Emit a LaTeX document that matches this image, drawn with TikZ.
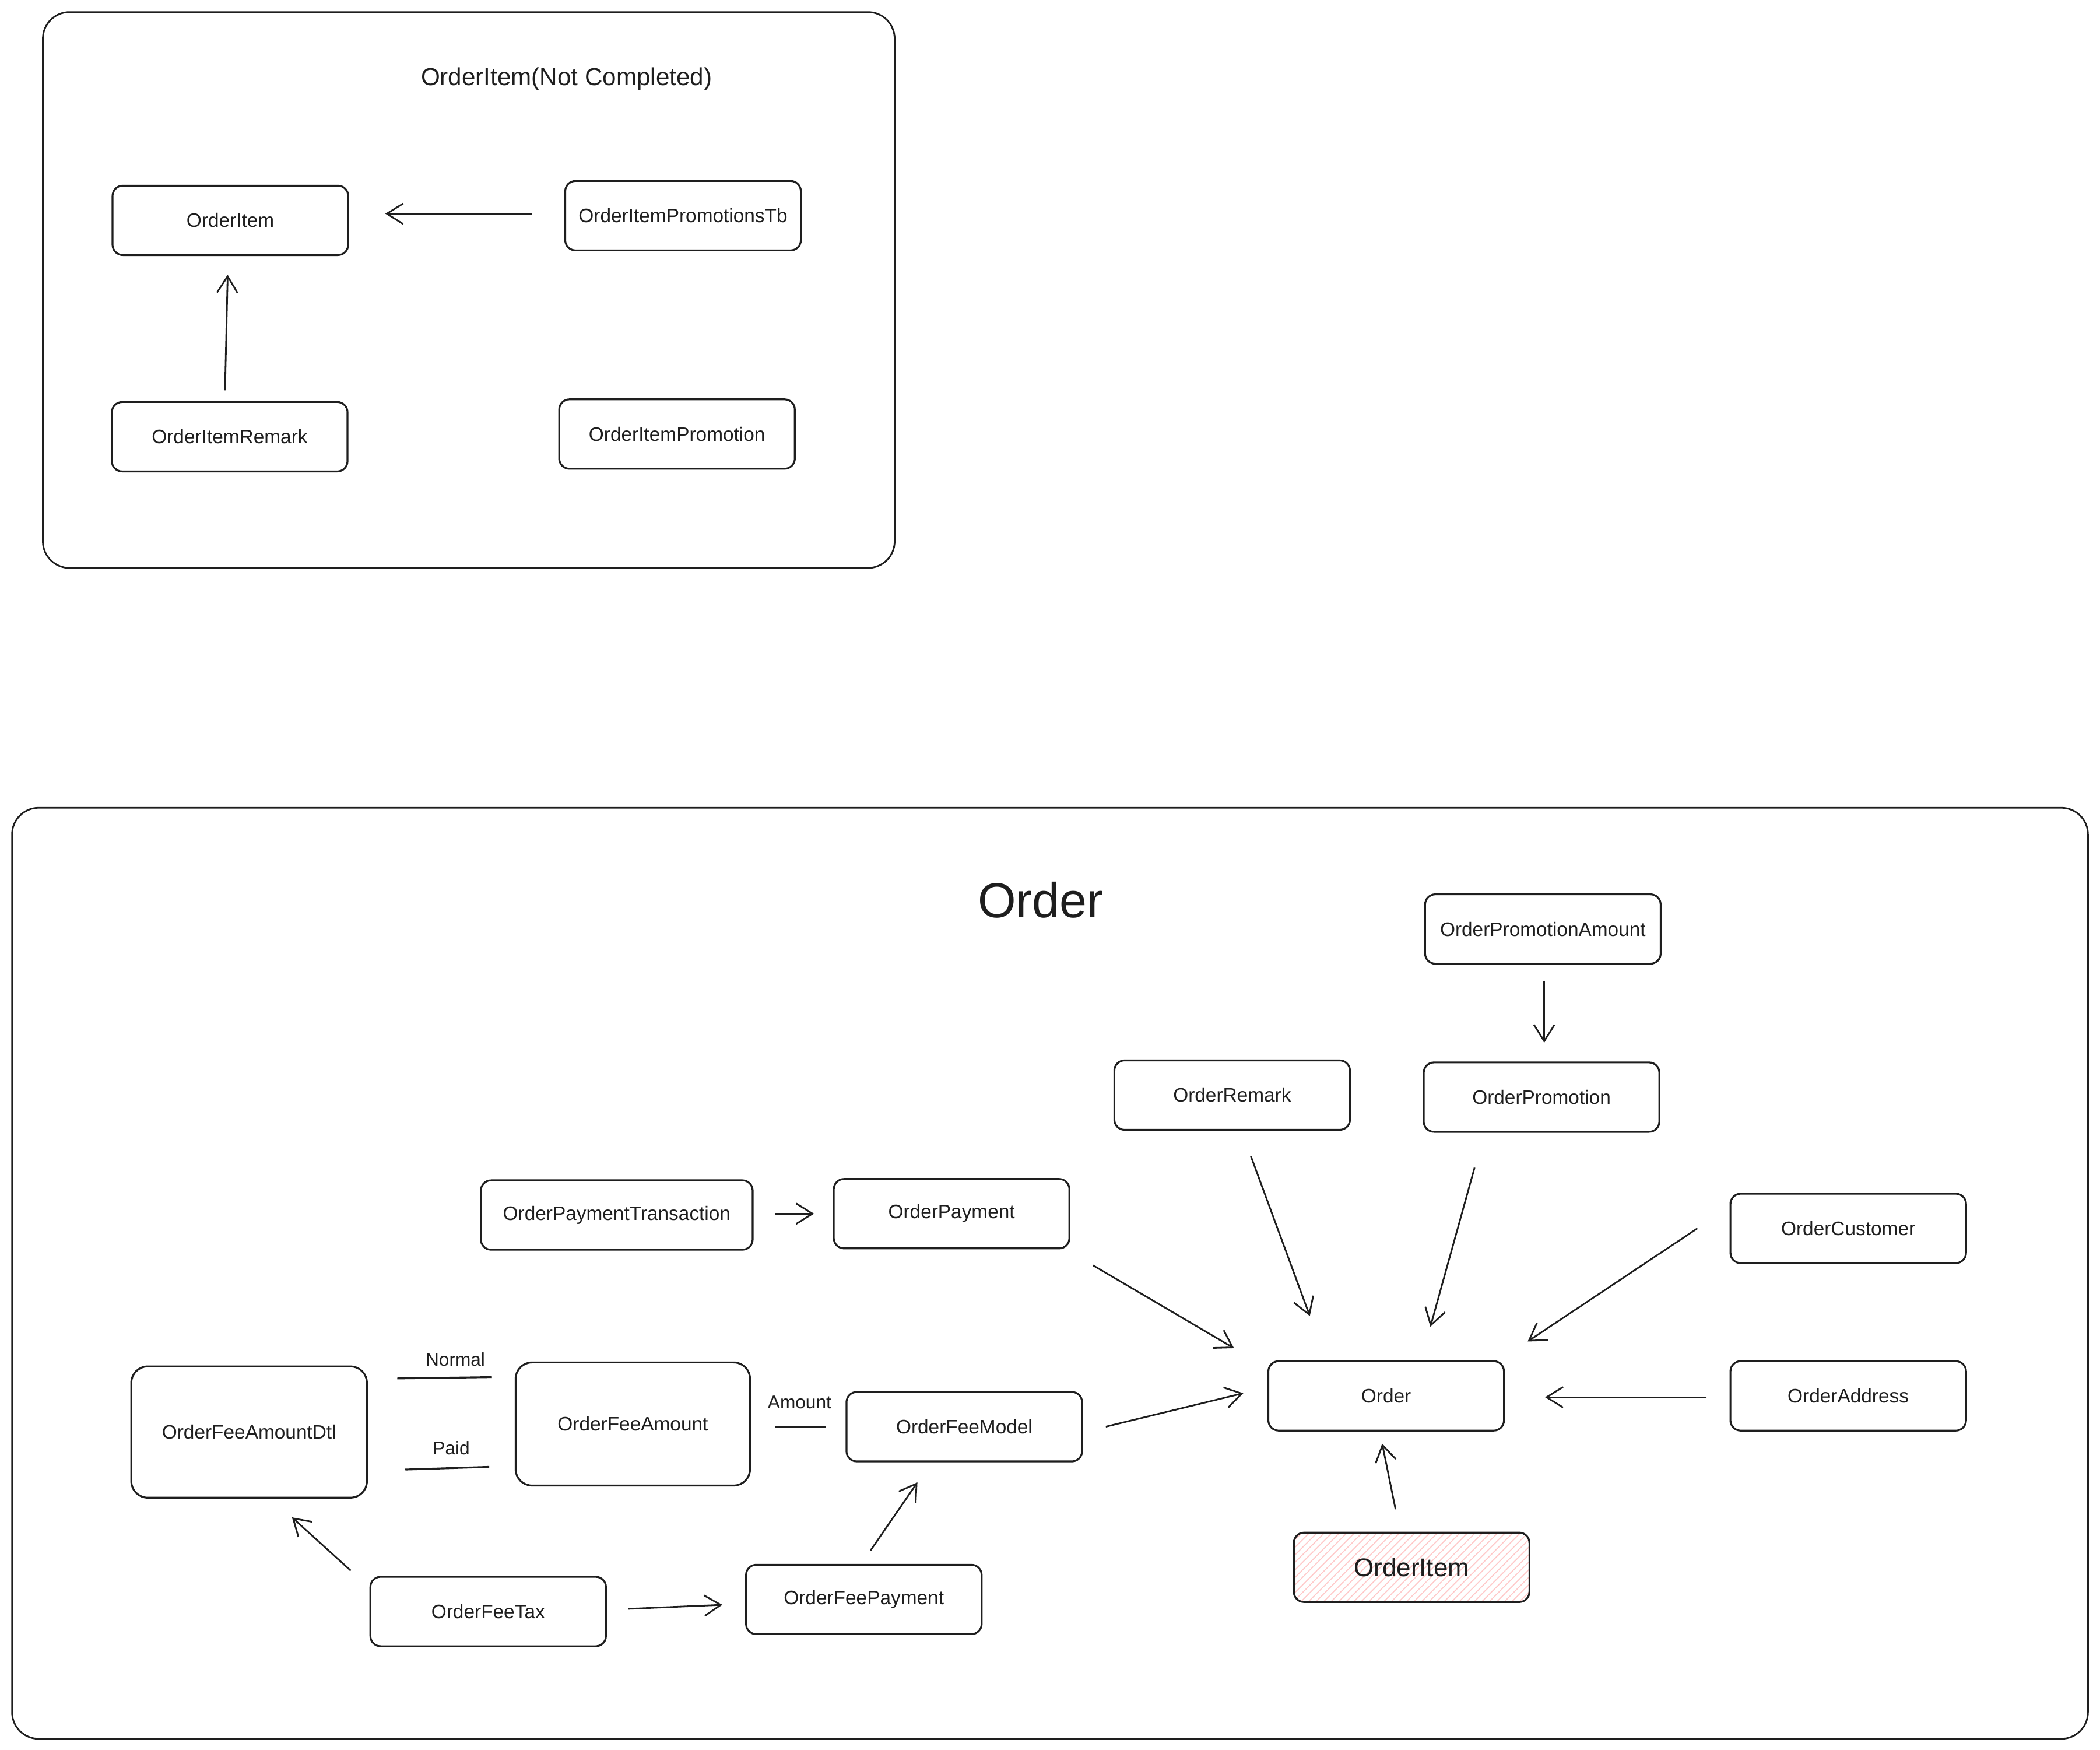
\documentclass[tikz,border=0pt]{standalone}
\usepackage{fontspec}
\setmainfont{Liberation Sans}
\usetikzlibrary{arrows.meta,calc,patterns.meta}
\definecolor{ink}{HTML}{1E1E1E}
\definecolor{hatch}{HTML}{FFC9C9}
\begin{document}
\begin{tikzpicture}[x=0.02297cm,y=-0.02297cm,
  every node/.style={text=ink, font=\fontsize{9.5}{11}\selectfont},
  box/.style={draw=ink, line width=0.9pt, rounded corners=5pt,
    minimum width=4.04cm, minimum height=1.19cm, inner sep=0pt},
  frame/.style={draw=ink, line width=0.8pt, rounded corners=13pt},
  arr/.style={draw=ink, line width=0.8pt,
    -{Straight Barb[length=8pt,width=10pt,line width=0.8pt]}},
  rule/.style={draw=ink, line width=0.9pt},
  lbl/.style={font=\fontsize{9}{11}\selectfont},
  hatched/.style={pattern={Lines[angle=45,distance=2.6pt,line width=0.5pt]},
    pattern color=hatch}
]
\useasboundingbox (0,0) rectangle (1568,1306);

% ---------- OrderItem group ----------
\draw[frame] (32,9) rectangle (668,424);
\node[font=\fontsize{12}{14}\selectfont] (t1) at (423,59) {OrderItem(Not Completed)};

\node[box] (oi)   at (172,164.5) {OrderItem};
\node[box] (oipt) at (510,161)   {OrderItemPromotionsTb};
\node[box] (oir)  at (171.5,326) {OrderItemRemark};
\node[box] (oip)  at (505.5,324) {OrderItemPromotion};

\draw[arr] ($(oipt.west)+(-24,-1)$) -- ($(oi.east)+(27,-5)$);
\draw[arr] ($(oir.north)+(-3.5,-8)$) -- ($(oi.south)+(-2,14)$);

% ---------- Order group ----------
\draw[frame] (9,603) rectangle (1559,1298);
\node[font=\fontsize{24}{28}\selectfont] (t2) at (777,672) {Order};

\node[box] (opa)   at (1152,693.5) {OrderPromotionAmount};
\node[box] (orem)  at (920,817.5)  {OrderRemark};
\node[box] (oprom) at (1151,819)   {OrderPromotion};
\node[box, minimum width=4.66cm] (opt) at (460.5,907) {OrderPaymentTransaction};
\node[box] (opay)  at (710.5,906)  {OrderPayment};
\node[box] (ocust) at (1380,917)   {OrderCustomer};
\node[box, minimum height=2.25cm, rounded corners=8pt] (ofad) at (186,1069) {OrderFeeAmountDtl};
\node[box, minimum width=4.02cm, minimum height=2.11cm, rounded corners=8pt] (ofa) at (472.5,1063) {OrderFeeAmount};
\node[box] (ofm)   at (720,1065)   {OrderFeeModel};
\node[box] (order) at (1035,1042)  {Order};
\node[box] (oaddr) at (1380,1042)  {OrderAddress};
\node[box, hatched, font=\fontsize{12.5}{14}\selectfont] (oitem) at (1054,1170) {OrderItem};
\node[box] (oftax) at (364.5,1203) {OrderFeeTax};
\node[box] (ofp)   at (645,1194)   {OrderFeePayment};

% labelled rules between the fee boxes
\node[lbl] (lnorm) at (340,1015) {Normal};
\node[lbl] (lpaid) at (337,1081) {Paid};
\node[lbl] (lamt)  at (597,1047) {Amount};
\draw[rule] ($(ofad.east)+(22,-40)$) -- ($(ofa.west)+(-17,-35)$);
\draw[rule] ($(ofad.east)+(28,28)$) -- ($(ofa.west)+(-19,32)$);
\draw[rule] ($(ofa.east)+(18,2)$) -- ($(ofm.west)+(-15,0)$);

% connectors
\draw[arr] ($(opa.south)+(1,12)$) -- ($(oprom.north)+(2,-14)$);
\draw[arr] ($(opt.east)+(16,-1)$) -- ($(opay.west)+(-14,0)$);
\draw[arr] ($(opay.south east)+(17,12)$) -- ($(order.north west)+(-25,-9)$);
\draw[arr] ($(ofm.east)+(17,0)$) -- ($(order.west)+(-18,-2)$);
\draw[arr] ($(orem.south)+(14,19)$) -- ($(order.north)+(-57,-33)$);
\draw[arr] ($(oprom.south)+(-50,26)$) -- ($(order.north)+(33,-25)$);
\draw[arr] ($(ocust.west)+(-24,0)$) -- ($(order.north east)+(17,-14)$);
\draw[arr] ($(oaddr.west)+(-17,1)$) -- ($(order.east)+(30,1)$);
\draw[arr] ($(oitem.north)+(-12,-17)$) -- ($(order.south)+(-3,9)$);
\draw[arr] ($(oftax.north west)+(-14,-4)$) -- ($(ofad.south)+(32,14)$);
\draw[arr] ($(oftax.east)+(16,-2)$) -- ($(ofp.west)+(-17,4)$);
\draw[arr] ($(ofp.north)+(5,-10)$) -- ($(ofm.south)+(-35,15)$);
\end{tikzpicture}
\end{document}
